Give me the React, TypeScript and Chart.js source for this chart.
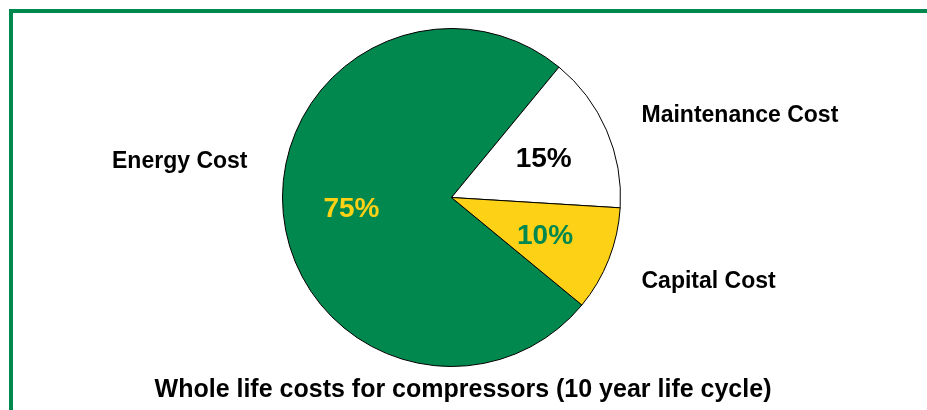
import React, { useEffect, useRef } from "react";
import { Chart, registerables } from "chart.js";

Chart.register(...registerables);

const categories: string[] = ["Energy Cost", "Maintenance Cost", "Capital Cost"];
const shares: number[] = [75, 15, 10];
const sliceColors: string[] = ["#00884F", "#FFFFFF", "#FDD116"];
const percentColors: string[] = ["#FDD116", "#000000", "#00884F"];
const titleText = "Whole life costs for compressors (10 year life cycle)";

const FONT = "'Liberation Sans', Arial, Helvetica, sans-serif";

const labelsPlugin = {
  id: "pieLabels",
  afterDraw(chart: any) {
    const ctx = chart.ctx as CanvasRenderingContext2D;
    const meta = chart.getDatasetMeta(0);
    const arc0 = meta.data[0];
    const cx = arc0.x;
    const cy = arc0.y;
    const r = arc0.outerRadius;
    ctx.save();
    // percentages inside slices
    const pSize = 28;
    ctx.font = `bold ${pSize}px ${FONT}`;
    ctx.textAlign = "center";
    ctx.textBaseline = "alphabetic";
    meta.data.forEach((arc: any, i: number) => {
      const mid = (arc.startAngle + arc.endAngle) / 2;
      const d = r * 0.595;
      const x = cx + Math.cos(mid) * d;
      const y = cy + Math.sin(mid) * d;
      ctx.fillStyle = percentColors[i];
      ctx.fillText(`${shares[i]}%`, x, y + (pSize * 0.716) / 2);
    });
    // category labels outside
    ctx.font = `bold 23px ${FONT}`;
    ctx.fillStyle = "#000000";
    const placements = [
      { align: "right", dx: -(r + 35), dy: -30 },
      { align: "left", dx: r + 21, dy: -75.5 },
      { align: "left", dx: r + 21, dy: 90.3 },
    ];
    categories.forEach((c, i) => {
      const p = placements[i];
      ctx.textAlign = p.align as CanvasTextAlign;
      ctx.fillText(c, cx + p.dx, cy + p.dy);
    });
    // title
    ctx.font = `bold 25px ${FONT}`;
    ctx.textAlign = "center";
    ctx.fillText(titleText, 463, 397);
    ctx.restore();
  },
};

export default function App() {
  const ref = useRef<HTMLCanvasElement | null>(null);
  useEffect(() => {
    if (!ref.current) return;
    const chart = new Chart(ref.current, {
      type: "pie",
      data: {
        labels: categories,
        datasets: [
          {
            data: shares,
            backgroundColor: sliceColors,
            borderColor: "#000000",
            borderWidth: 1,
          },
        ],
      },
      options: {
        animation: false,
        responsive: false,
        devicePixelRatio: 1,
        rotation: 129.5,
        layout: { padding: { left: 282, right: 306, top: 28, bottom: 43 } },
        plugins: {
          legend: { display: false },
          tooltip: { enabled: false },
          title: { display: false },
        },
      },
      plugins: [labelsPlugin],
    });
    return () => chart.destroy();
  }, []);
  return (
    <div style={{ position: "fixed", left: 0, top: 0, width: 927, height: 410, overflow: "hidden", background: "#fff" }}>
      <div
        style={{
          position: "absolute",
          left: 9,
          top: 9,
          width: 1200,
          height: 800,
          border: "4px solid #00884F",
          boxSizing: "border-box",
        }}
      />
      <canvas ref={ref} width={927} height={410} style={{ position: "absolute", left: 0, top: 0, display: "block" }} />
    </div>
  );
}
